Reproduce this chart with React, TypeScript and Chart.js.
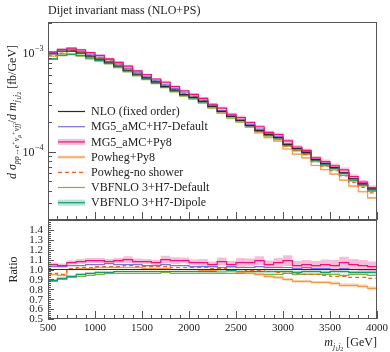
import React, { useEffect, useRef } from 'react';
import { Chart, registerables } from 'chart.js';
Chart.register(...registerables);

// ---------------- data ----------------
const binEdges = [500, 600, 700, 800, 900, 1000, 1100, 1200, 1300, 1400, 1500, 1600, 1700, 1800, 1900, 2000, 2100, 2200, 2300, 2400, 2500, 2600, 2700, 2800, 2900, 3000, 3100, 3200, 3300, 3400, 3500, 3600, 3700, 3800, 3900, 4000];

// NLO (fixed order) differential cross section [fb/GeV]
const nloValues = [9.8e-4, 1.05e-3, 1.05e-3, 1.0e-3, 9.3e-4, 8.7e-4, 8.1e-4, 7.4e-4, 6.7e-4, 6.1e-4, 5.6e-4, 5.1e-4, 4.6e-4, 4.2e-4, 3.8e-4, 3.56e-4, 3.24e-4, 2.88e-4, 2.56e-4, 2.28e-4, 2.07e-4, 1.84e-4, 1.64e-4, 1.49e-4, 1.39e-4, 1.18e-4, 1.07e-4, 9.8e-5, 8.3e-5, 7.55e-5, 6.87e-5, 6.1e-5, 5.3e-5, 4.71e-5, 4.19e-5];

// ratios to NLO
const ratioMgH7 = [1.03, 1.03, 1.04, 1.04, 1.05, 1.05, 1.06, 1.05, 1.05, 1.05, 1.04, 1.04, 1.05, 1.04, 1.04, 1.03, 1.03, 1.03, 1.02, 1.03, 1.02, 1.02, 1.03, 1.02, 1.02, 1.02, 1.01, 1.02, 1.01, 1.01, 1.0, 1.01, 1.0, 1.0, 1.0];
const ratioMgPy8 = [1.05, 1.04, 1.07, 1.08, 1.09, 1.09, 1.08, 1.09, 1.1, 1.08, 1.08, 1.07, 1.1, 1.09, 1.09, 1.07, 1.07, 1.05, 1.08, 1.05, 1.07, 1.07, 1.09, 1.05, 1.07, 1.09, 1.04, 1.05, 1.04, 1.05, 1.04, 1.07, 1.05, 1.04, 1.03];
const errMgPy8 = [0.02, 0.02, 0.02, 0.025, 0.025, 0.025, 0.025, 0.025, 0.035, 0.03, 0.025, 0.025, 0.04, 0.035, 0.03, 0.03, 0.035, 0.03, 0.04, 0.035, 0.045, 0.04, 0.045, 0.04, 0.045, 0.055, 0.045, 0.045, 0.045, 0.05, 0.055, 0.06, 0.055, 0.055, 0.05];
const ratioPowPy8 = [0.95, 0.94, 1.0, 1.01, 1.01, 1.02, 1.02, 1.02, 1.02, 1.02, 1.01, 1.01, 1.01, 1.0, 1.0, 1.0, 0.99, 0.99, 0.98, 0.98, 0.97, 0.96, 0.95, 0.93, 0.92, 0.9, 0.88, 0.88, 0.87, 0.87, 0.86, 0.84, 0.84, 0.83, 0.81];
const errPowPy8 = [0.01, 0.01, 0.01, 0.01, 0.01, 0.01, 0.01, 0.01, 0.01, 0.01, 0.01, 0.01, 0.01, 0.01, 0.01, 0.01, 0.01, 0.01, 0.01, 0.01, 0.01, 0.01, 0.015, 0.015, 0.015, 0.015, 0.015, 0.015, 0.015, 0.015, 0.02, 0.02, 0.02, 0.02, 0.02];
const ratioPowNoShower = [0.96, 0.95, 1.01, 1.02, 1.02, 1.03, 1.03, 1.03, 1.04, 1.03, 1.03, 1.03, 1.03, 1.02, 1.02, 1.02, 1.02, 1.01, 1.01, 1.0, 1.0, 0.99, 0.99, 0.98, 0.97, 0.96, 0.96, 0.95, 0.95, 0.94, 0.93, 0.93, 0.92, 0.92, 0.91];
const ratioVbfDefault = [0.88, 0.9, 0.92, 0.93, 0.94, 0.95, 0.96, 0.96, 0.96, 0.96, 0.96, 0.96, 0.97, 0.96, 0.96, 0.96, 0.96, 0.96, 0.96, 0.96, 0.96, 0.96, 0.95, 0.95, 0.95, 0.96, 0.95, 0.95, 0.95, 0.95, 0.95, 0.94, 0.95, 0.95, 0.94];
const ratioVbfDipole = [0.89, 0.91, 0.93, 0.95, 0.96, 0.97, 0.97, 0.98, 0.98, 0.98, 0.98, 0.98, 0.98, 0.98, 0.98, 0.98, 0.98, 0.98, 0.98, 0.99, 0.98, 0.98, 0.98, 0.98, 0.98, 0.98, 0.97, 0.98, 0.98, 0.97, 0.98, 0.98, 0.97, 0.97, 0.97];
const errVbfDipole = [0.01, 0.01, 0.01, 0.01, 0.01, 0.01, 0.01, 0.01, 0.01, 0.01, 0.01, 0.01, 0.01, 0.01, 0.01, 0.01, 0.015, 0.015, 0.015, 0.015, 0.015, 0.015, 0.015, 0.015, 0.015, 0.02, 0.02, 0.02, 0.02, 0.02, 0.02, 0.02, 0.02, 0.02, 0.02];

const seriesLabels = ['NLO (fixed order)', 'MG5_aMC+H7-Default', 'MG5_aMC+Py8', 'Powheg+Py8', 'Powheg-no shower', 'VBFNLO 3+H7-Default', 'VBFNLO 3+H7-Dipole'];

const xMajorTicks = [500, 1000, 1500, 2000, 2500, 3000, 3500, 4000];
const yMainMajorTicks = [1e-4, 1e-3];
const yMainMinorTicks = [2e-5, 3e-5, 4e-5, 5e-5, 6e-5, 7e-5, 8e-5, 9e-5, 2e-4, 3e-4, 4e-4, 5e-4, 6e-4, 7e-4, 8e-4, 9e-4, 2e-3];
const yRatioMajorTicks = [0.5, 0.6, 0.7, 0.8, 0.9, 1.0, 1.1, 1.2, 1.3, 1.4];

// ---------------- styles ----------------
const C = {
  nlo: '#2a2a2a',
  mgH7: '#7b6fd8',
  mgPy8: '#e5177b',
  mgPy8Band: 'rgba(240,110,170,0.45)',
  powPy8: '#f29a4a',
  powPy8Band: 'rgba(248,180,120,0.45)',
  powNo: '#e8681a',
  vbfDef: '#7db33c',
  vbfDip: '#169a6c',
  vbfDipBand: 'rgba(120,200,170,0.5)',
};
const SERIF = '"Liberation Serif", "DejaVu Serif", serif';
const font = (size: number, italic = false) => `${italic ? 'italic ' : ''}${size}px ${SERIF}`;

const stepPts = (vals: number[]) => binEdges.map((e, i) => ({ x: e, y: vals[Math.min(i, vals.length - 1)] }));
const mul = (a: number[], b: number[]) => a.map((v, i) => v * b[i]);
const addErr = (a: number[], e: number[], s: number) => a.map((v, i) => v + s * e[i]);

const lineDs = (label: string, vals: number[], color: string, width = 1.2, dash: number[] = []) => ({
  label, data: stepPts(vals), borderColor: color, borderWidth: width, borderDash: dash,
  pointRadius: 0, fill: false, stepped: true, backgroundColor: 'transparent',
});
const bandDs = (lo: number[], hi: number[], color: string) => [
  { label: '_lo', data: stepPts(lo), borderWidth: 0, pointRadius: 0, fill: false, stepped: true, borderColor: 'transparent', backgroundColor: 'transparent' },
  { label: '_hi', data: stepPts(hi), borderWidth: 0, pointRadius: 0, fill: '-1', stepped: true, borderColor: 'transparent', backgroundColor: color },
];

function buildDatasets(ref: number[]) {
  const one = ref.map(() => 1);
  const r = (rat: number[]) => mul(ref, rat);
  const list: any[] = [
    ...bandDs(r(addErr(ratioMgPy8, errMgPy8, -1)), r(addErr(ratioMgPy8, errMgPy8, 1)), C.mgPy8Band),
    ...bandDs(r(addErr(ratioPowPy8, errPowPy8, -1)), r(addErr(ratioPowPy8, errPowPy8, 1)), C.powPy8Band),
    ...bandDs(r(addErr(ratioVbfDipole, errVbfDipole, -1)), r(addErr(ratioVbfDipole, errVbfDipole, 1)), C.vbfDipBand),
    lineDs(seriesLabels[5], r(ratioVbfDefault), C.vbfDef),
    lineDs(seriesLabels[6], r(ratioVbfDipole), C.vbfDip),
    lineDs(seriesLabels[3], r(ratioPowPy8), C.powPy8),
    lineDs(seriesLabels[4], r(ratioPowNoShower), C.powNo, 1.2, [4, 3]),
    lineDs(seriesLabels[1], r(ratioMgH7), C.mgH7),
    lineDs(seriesLabels[0], r(one), C.nlo),
    lineDs(seriesLabels[2], r(ratioMgPy8), C.mgPy8),
  ];
  list.forEach((d, i) => { d.order = list.length - i; });
  return list;
}

// rich text helper
type Seg = { t: string; s: number; i?: boolean; dy?: number };
function richWidth(ctx: CanvasRenderingContext2D, segs: Seg[]) {
  let w = 0;
  for (const g of segs) { ctx.font = font(g.s, g.i); w += ctx.measureText(g.t).width; }
  return w;
}
function drawRich(ctx: CanvasRenderingContext2D, segs: Seg[], x: number, y: number) {
  let cx = x;
  ctx.textBaseline = 'alphabetic';
  ctx.textAlign = 'left';
  for (const g of segs) {
    ctx.font = font(g.s, g.i);
    ctx.fillText(g.t, cx, y + (g.dy || 0));
    cx += ctx.measureText(g.t).width;
  }
}

const yLabelSegs: Seg[] = [
  { t: 'd', s: 12, i: true }, { t: ' ', s: 12 }, { t: 'σ', s: 12, i: true },
  { t: 'pp→e', s: 8, i: true, dy: 3 }, { t: '+', s: 6, dy: 0 }, { t: 'ν', s: 8, i: true, dy: 3 },
  { t: 'μ', s: 6, i: true, dy: 5 }, { t: '+', s: 6, dy: 0 }, { t: 'ν', s: 8, i: true, dy: 3 },
  { t: 'jj', s: 8, i: true, dy: 3 }, { t: '/', s: 12 }, { t: 'd', s: 12, i: true }, { t: ' ', s: 12 },
  { t: 'm', s: 12, i: true }, { t: 'j', s: 8, i: true, dy: 3 }, { t: '1', s: 6, dy: 5 },
  { t: 'j', s: 8, i: true, dy: 3 }, { t: '2', s: 6, dy: 5 }, { t: ' [fb/GeV]', s: 12 },
];
const xLabelSegs: Seg[] = [
  { t: 'm', s: 12, i: true }, { t: 'j', s: 8, i: true, dy: 3 }, { t: '1', s: 6, dy: 5 },
  { t: 'j', s: 8, i: true, dy: 3 }, { t: '2', s: 6, dy: 5 }, { t: ' [GeV]', s: 12 },
];

const FRAME = '#555';
const TEXT = '#222';

function drawXTicks(ctx: CanvasRenderingContext2D, x: any, bottom: number) {
  ctx.strokeStyle = FRAME;
  ctx.lineWidth = 1;
  for (const v of binEdges) {
    const px = Math.round(x.getPixelForValue(v)) + 0.5;
    const len = xMajorTicks.includes(v) ? 8 : 4;
    ctx.beginPath(); ctx.moveTo(px, bottom); ctx.lineTo(px, bottom - len); ctx.stroke();
  }
}
function drawFrame(ctx: CanvasRenderingContext2D, a: any) {
  ctx.strokeStyle = FRAME;
  ctx.lineWidth = 1;
  ctx.strokeRect(Math.round(a.left) + 0.5, Math.round(a.top) + 0.5, Math.round(a.right - a.left) - 1, Math.round(a.bottom - a.top) - 1);
}

const mainDecor = {
  id: 'mainDecor',
  afterDraw(chart: any) {
    const { ctx, chartArea: a, scales: { x, y } } = chart;
    ctx.save();
    drawFrame(ctx, a);
    drawXTicks(ctx, x, a.bottom);
    // y ticks
    for (const v of [...yMainMajorTicks, ...yMainMinorTicks]) {
      const py = Math.round(y.getPixelForValue(v)) + 0.5;
      const len = yMainMajorTicks.includes(v) ? 8 : 4;
      ctx.beginPath(); ctx.moveTo(a.left, py); ctx.lineTo(a.left + len, py); ctx.stroke();
    }
    ctx.fillStyle = TEXT;
    for (const v of yMainMajorTicks) {
      const py = y.getPixelForValue(v);
      const exp = '\u2212' + Math.round(-Math.log10(v));
      ctx.font = font(12); const w1 = ctx.measureText('10').width;
      ctx.font = font(8); const w2 = ctx.measureText(exp).width;
      const x0 = a.left - 5 - w1 - w2;
      ctx.textBaseline = 'middle'; ctx.textAlign = 'left';
      ctx.font = font(12); ctx.fillText('10', x0, py + 1);
      ctx.font = font(8); ctx.fillText(exp, x0 + w1 + 0.5, py - 4);
    }
    // title
    ctx.font = font(12); ctx.textAlign = 'left'; ctx.textBaseline = 'alphabetic';
    ctx.fillText('Dijet invariant mass (NLO+PS)', a.left, 14);
    // y label (rotated)
    const W = richWidth(ctx, yLabelSegs);
    ctx.save();
    ctx.translate(16, 112);
    ctx.rotate(-Math.PI / 2);
    drawRich(ctx, yLabelSegs, -W / 2, 0);
    ctx.restore();
    // legend
    const items = [
      { c: C.nlo }, { c: C.mgH7 }, { c: C.mgPy8, band: C.mgPy8Band }, { c: C.powPy8, band: C.powPy8Band, h: 3 },
      { c: C.powNo, dash: [4, 3] }, { c: C.vbfDef }, { c: C.vbfDip, band: C.vbfDipBand },
    ];
    items.forEach((it: any, i) => {
      const yy = 111.5 + i * 15.2;
      if (it.band) { ctx.fillStyle = it.band; const h = it.h || 6; ctx.fillRect(58, yy - h / 2, 27, h); }
      ctx.strokeStyle = it.c; ctx.lineWidth = 1.2; ctx.setLineDash(it.dash || []);
      ctx.beginPath(); ctx.moveTo(58, yy); ctx.lineTo(85, yy); ctx.stroke();
      ctx.setLineDash([]);
      ctx.fillStyle = TEXT; ctx.font = font(12); ctx.textBaseline = 'middle'; ctx.textAlign = 'left';
      ctx.fillText(seriesLabels[i], 91, yy + 0.5);
    });
    ctx.restore();
  },
};

const ratioDecor = {
  id: 'ratioDecor',
  afterDraw(chart: any) {
    const { ctx, chartArea: a, scales: { x, y } } = chart;
    ctx.save();
    drawFrame(ctx, a);
    drawXTicks(ctx, x, a.bottom);
    ctx.strokeStyle = FRAME; ctx.lineWidth = 1;
    for (let k = 0; k <= 50; k++) {
      const v = 0.5 + k * 0.02;
      const py = Math.round(y.getPixelForValue(v)) + 0.5;
      const len = k % 5 === 0 ? 6 : 3;
      ctx.beginPath(); ctx.moveTo(a.left, py); ctx.lineTo(a.left + len, py); ctx.stroke();
    }
    ctx.fillStyle = TEXT; ctx.font = font(11); ctx.textAlign = 'right'; ctx.textBaseline = 'middle';
    for (const v of yRatioMajorTicks) ctx.fillText(v.toFixed(1), a.left - 5, y.getPixelForValue(v) + 0.5);
    ctx.textAlign = 'center'; ctx.textBaseline = 'middle';
    for (const v of xMajorTicks) ctx.fillText(String(v), x.getPixelForValue(v), a.bottom + 9);
    // x label
    const W = richWidth(ctx, xLabelSegs);
    drawRich(ctx, xLabelSegs, a.right - W, 346);
    // Ratio label
    ctx.save();
    ctx.translate(17, (a.top + a.bottom) / 2);
    ctx.rotate(-Math.PI / 2);
    ctx.font = font(12); ctx.textAlign = 'center'; ctx.textBaseline = 'alphabetic';
    ctx.fillText('Ratio', 0, 0);
    ctx.restore();
    ctx.restore();
  },
};

export default function App() {
  const mainRef = useRef<HTMLCanvasElement>(null);
  const ratioRef = useRef<HTMLCanvasElement>(null);
  useEffect(() => {
    const common = {
      responsive: false, animation: false as const, events: [] as any[],
      plugins: { legend: { display: false }, tooltip: { enabled: false } },
    };
    const main = new Chart(mainRef.current!, {
      type: 'line',
      data: { datasets: buildDatasets(nloValues) },
      options: {
        ...common,
        layout: { padding: { left: 48, right: 13, top: 22, bottom: 132 } },
        scales: {
          x: { type: 'linear', min: 500, max: 4000, display: false },
          y: { type: 'logarithmic', min: 2.02e-5, max: 2.07e-3, display: false },
        },
      } as any,
      plugins: [mainDecor],
    });
    const ratio = new Chart(ratioRef.current!, {
      type: 'line',
      data: { datasets: buildDatasets(nloValues.map(() => 1)) },
      options: {
        ...common,
        layout: { padding: { left: 48, right: 13, top: 220, bottom: 33 } },
        scales: {
          x: { type: 'linear', min: 500, max: 4000, display: false },
          y: { type: 'linear', min: 0.5, max: 1.5, display: false },
        },
      } as any,
      plugins: [ratioDecor],
    });
    return () => { main.destroy(); ratio.destroy(); };
  }, []);
  const cs: React.CSSProperties = { position: 'absolute', left: 0, top: 0, width: 390, height: 352 };
  return (
    <div style={{ position: 'absolute', left: 0, top: 0, width: 390, height: 352, background: '#fff' }}>
      <canvas ref={mainRef} width={390} height={352} style={cs} />
      <canvas ref={ratioRef} width={390} height={352} style={cs} />
    </div>
  );
}
